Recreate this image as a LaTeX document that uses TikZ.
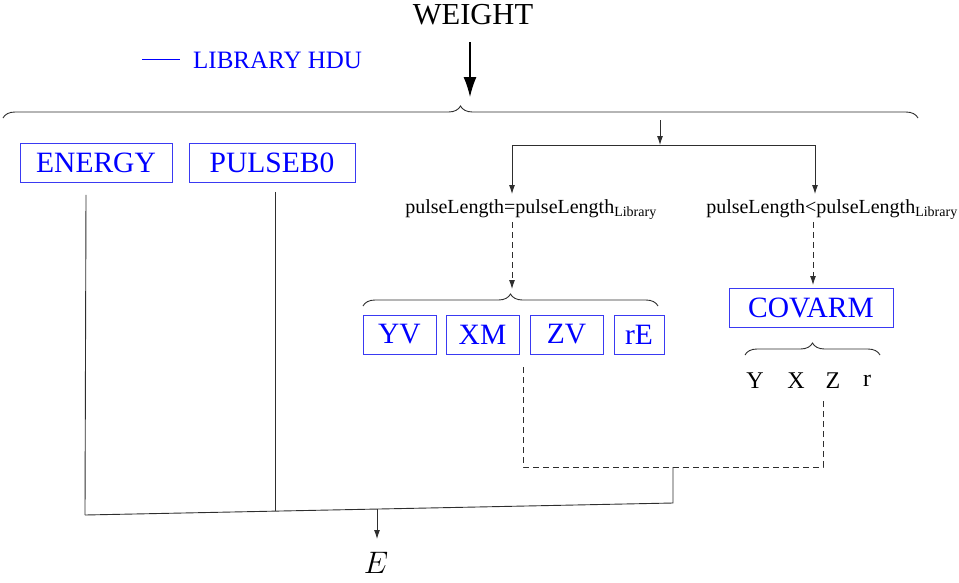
\documentclass[tikz,border=0pt]{standalone}
\usepackage{fontspec}
\setmainfont{Liberation Serif}
\usepackage{xcolor}
\usepackage{tikz}
\usetikzlibrary{arrows.meta,decorations.pathreplacing}
\definecolor{hdublue}{HTML}{0000FF}
\definecolor{hduframe}{HTML}{3A3AF2}
\definecolor{wiregray}{HTML}{2E2E2E}
\tikzset{
  hdubox/.style={draw=hduframe,text=hdublue,font=\fontsize{29.5}{34}\selectfont,minimum height=39pt,inner sep=0pt,line width=0.9pt},
  plainlabel/.style={text=black,inner sep=1pt},
  legendline/.style={color=hdublue,line width=0.8pt},
  wire/.style={draw=wiregray,line width=0.9pt},
  wirearrow/.style={-{Latex[length=9pt,width=6pt]},draw=wiregray,line width=0.9pt},
  dashwire/.style={wire,dash pattern=on 6pt off 4pt},
  curly/.style={decorate,decoration={brace,amplitude=#1},draw=wiregray,line width=0.9pt},
  curly/.default=12pt,
}

\begin{document}
\begin{tikzpicture}[x=1pt,y=-1pt]
    \useasboundingbox (0,0) rectangle (959,582);
    % title and legend
    \node[plainlabel,font=\fontsize{30.5}{36}\selectfont] (weight) at (473,15) {WEIGHT};
    \coordinate (legA) at (142,59); \coordinate (legB) at (180,59);
    \draw[legendline] (legA) -- (legB);
    \node[plainlabel,anchor=west,text=hdublue,font=\fontsize{25}{29}\selectfont] (legtext) at (192,60) {LIBRARY HDU};
    \coordinate (wtop) at (470,42); \coordinate (wtip) at (470,97);
    \draw[-{Latex[length=20pt,width=13pt]},draw=black,line width=1.3pt] (wtop) -- (wtip);
    \coordinate (topL) at (3,118); \coordinate (topR) at (918,118);
    \draw[curly] (topL) -- (topR);
    % library columns
    \node[hdubox,minimum width=152pt] (energy) at (96,163) {ENERGY};
    \node[hdubox,minimum width=166pt] (pulseb) at (272,163) {PULSEB0};
    % pulse length branches
    \coordinate (branchtop) at (660,120);
    \coordinate (splitL) at (512,145); \coordinate (splitM) at (660,145); \coordinate (splitR) at (815,145);
    \draw[wirearrow] (branchtop) -- (splitM);
    \draw[wire] (splitL) -- (splitR);
    \node[plainlabel,font=\fontsize{20}{24}\selectfont] (eqlen) at (531,210) {pulseLength=pulseLength\textsubscript{Library}};
    \node[plainlabel,font=\fontsize{20}{24}\selectfont] (ltlen) at (832,210) {pulseLength<pulseLength\textsubscript{Library}};
    \draw[wirearrow] (splitL) -- (splitL |- 0,194);
    \draw[wirearrow] (splitR) -- (splitR |- 0,194);
    \coordinate (eqtip) at (512,289); \coordinate (lttip) at (813,285);
    \draw[wirearrow,dash pattern=on 6pt off 4pt] (eqtip |- 0,222) -- (eqtip);
    \draw[wirearrow,dash pattern=on 6pt off 4pt] (lttip |- 0,222) -- (lttip);
    % equal length: vectors
    \draw[curly] (363,306) -- (658,306);
    \node[hdubox,minimum width=73pt] (yv) at (399.5,334.5) {YV};
    \node[hdubox,minimum width=73pt] (xm) at (482.5,334.5) {XM};
    \node[hdubox,minimum width=73pt] (zv) at (566.5,334.5) {ZV};
    \node[hdubox,minimum width=50pt] (re) at (639,334.5) {rE};
    % shorter length: covariance matrix
    \node[hdubox,minimum width=164pt] (covarm) at (811,307.5) {COVARM};
    \draw[curly] (745,355) -- (880,355);
    \node[plainlabel,font=\fontsize{24}{28}\selectfont] (ylab) at (755,381) {Y};
    \node[plainlabel,font=\fontsize{24}{28}\selectfont] (xlab) at (796,381) {X};
    \node[plainlabel,font=\fontsize{24}{28}\selectfont] (zlab) at (833,381) {Z};
    \node[plainlabel,font=\fontsize{24}{28}\selectfont] (rlab) at (867,381) {r};
    % joining to E
    \coordinate (vecfoot) at (523,367); \coordinate (covfoot) at (823,398);
    \coordinate (dashjoin) at (673,467);
    \draw[dashwire] (vecfoot) -- (vecfoot |- dashjoin) -- (covfoot |- dashjoin) -- (covfoot);
    \coordinate (sumL) at (85,515); \coordinate (sumR) at (673,503);
    \draw[wire] (dashjoin) -- (sumR) -- (sumL);
    \draw[wire] ([xshift=-10pt,yshift=-12pt]energy.south) -- (sumL);
    \draw[wire] ([xshift=3pt,yshift=-9pt]pulseb.south) -- (275,511);
    \node[plainlabel,font=\fontsize{24.88}{30}\selectfont,scale=1.25] (eout) at (376,563) {$E$};
    \draw[wirearrow] (377,509) -- (377,539);
\end{tikzpicture}
\end{document}
